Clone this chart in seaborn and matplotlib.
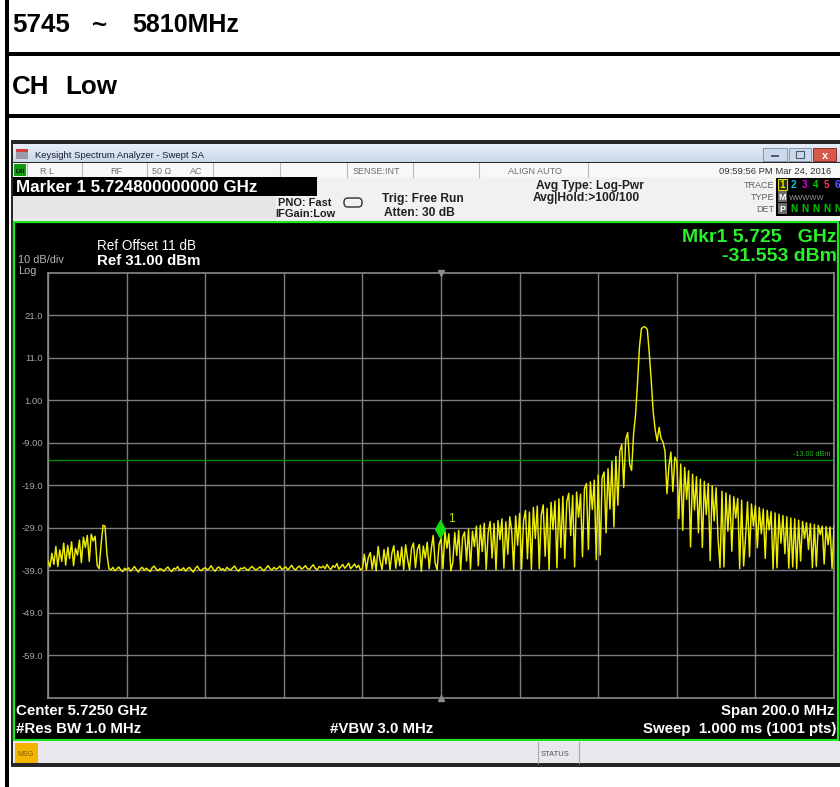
import numpy as np
import seaborn as sns
import matplotlib.pyplot as plt
from matplotlib.patches import Rectangle, FancyBboxPatch
from matplotlib.path import Path

W, H = 840, 787
FONT = "Liberation Sans"

# Analyzer settings
center_ghz = 5.725
span_ghz = 0.200
ref_level = 31.0
db_per_div = 10.0
limit_dbm = -13.0
marker_ghz = 5.7248
marker_dbm = -31.553

ytick_values = [21.0, 11.0, 1.0, -9.0, -19.0, -29.0, -39.0, -49.0, -59.0]
ytick_labels = ["21.0", "11.0", "1.00", "-9.00", "-19.0", "-29.0", "-39.0", "-49.0", "-59.0"]

# Trace levels (dBm) read every 0.5 MHz across the span
level_left = [  # 5625.0 .. 5644.5 MHz
    -36.8, -38.2, -35.0, -37.6, -33.4, -38.1, -34.2, -36.9, -32.6, -37.8,
    -33.1, -36.2, -32.3, -37.9, -33.8, -35.4, -31.9, -37.2, -31.2, -33.6,
    -30.8, -36.9, -30.5, -32.1, -31.0, -37.8, -38.6, -33.0, -28.4, -28.6,
    -35.2, -38.6, -38.9, -38.3, -39.1, -38.7, -38.2, -38.9, -39.3, -38.5,
]
level_floor = [  # 5645.0 .. 5704.5 MHz
    -38.9, -38.4, -39.2, -38.7, -38.1, -38.8, -39.4, -38.6, -38.3, -39.0,
    -38.5, -38.9, -39.3, -38.4, -38.0, -38.7, -39.1, -38.6, -38.8, -39.2,
    -38.6, -38.2, -38.9, -39.3, -38.5, -38.7, -38.1, -39.0, -38.8, -38.4,
    -39.2, -38.6, -38.3, -38.9, -39.4, -38.5, -38.0, -38.8, -39.1, -38.6,
    -38.4, -38.9, -38.6, -37.9, -38.7, -39.2, -38.5, -38.2, -38.9, -38.6,
    -39.1, -38.3, -38.7, -38.9, -38.4, -38.0, -38.8, -39.2, -38.5, -38.6,
    -38.3, -38.8, -39.0, -38.4, -38.1, -38.7, -38.9, -38.5, -38.2, -38.8,
    -39.1, -38.4, -37.9, -38.6, -38.9, -38.3, -38.7, -38.5, -38.0, -38.8,
    -38.5, -38.2, -38.9, -38.4, -37.8, -38.6, -38.9, -38.3, -38.0, -38.7,
    -38.4, -37.9, -38.6, -38.8, -38.2, -37.7, -38.5, -38.9, -38.1, -38.4,
    -38.0, -38.6, -37.6, -38.4, -38.8, -37.9, -38.3, -37.4, -38.7, -38.2,
    -37.6, -38.5, -38.0, -37.3, -38.6, -38.1, -37.5, -38.4, -37.8, -38.9,
]
level_rise = [  # 5705.0 .. 5774.5 MHz
    -38.6, -35.2, -38.9, -36.0, -34.8, -38.7, -35.6, -39.1, -33.4, -36.8,
    -38.8, -34.1, -37.5, -33.6, -38.9, -35.0, -33.2, -38.5, -34.4, -37.9,
    -33.5, -38.8, -33.0, -36.4, -38.9, -33.8, -32.6, -38.4, -34.0, -32.9,
    -39.2, -33.3, -36.1, -32.4, -38.6, -34.2, -30.8, -37.2, -38.9, -33.0,
    -31.55, -38.6, -29.9, -33.8, -30.4, -39.1, -37.2, -30.1, -35.5, -29.6,
    -38.9, -31.2, -30.0, -36.8, -29.4, -38.7, -29.8, -33.4, -28.6, -37.9,
    -28.4, -34.6, -27.9, -38.8, -30.2, -27.5, -36.1, -28.0, -38.9, -27.3,
    -31.8, -26.9, -38.5, -27.6, -35.2, -26.4, -29.8, -38.9, -26.2, -33.1,
    -25.6, -38.7, -27.4, -24.9, -36.3, -25.3, -38.8, -24.2, -31.5, -23.9,
    -38.6, -26.0, -23.6, -35.7, -24.4, -38.9, -23.0, -29.4, -22.7, -38.4,
    -22.2, -33.6, -21.6, -36.2, -22.9, -20.9, -30.8, -21.4, -38.2, -20.6,
    -26.5, -21.1, -35.8, -19.8, -18.6, -34.1, -18.2, -24.7, -17.8, -36.5,
    -16.6, -35.4, -17.2, -15.9, -30.2, -15.1, -24.6, -13.4, -28.8, -12.2,
    -23.7, -11.0, -9.4, -19.5, -8.2, -6.6, -14.0, -15.5, -7.0, -2.5,
]
level_peak = [  # 5775.0 .. 5784.5 MHz
    5.0, 13.5, 17.8, 18.2, 18.2, 17.6, 12.0, 5.5, -1.8, -6.0,
    -8.6, -5.4, -8.0, -8.9, -11.0, -21.0, -14.5, -11.2, -20.5, -12.4,
]
level_tail = [  # 5785.0 .. 5825.0 MHz
    -13.2, -26.8, -14.0, -29.6, -14.8, -22.3, -15.6, -33.5, -16.4, -24.8,
    -17.0, -30.2, -17.6, -33.6, -18.1, -25.9, -18.6, -36.7, -19.1, -27.4,
    -19.6, -31.6, -38.4, -20.4, -38.2, -20.8, -29.8, -21.3, -34.5, -21.7,
    -26.7, -22.1, -38.6, -22.5, -38.0, -31.2, -22.9, -35.8, -23.4, -28.6,
    -23.8, -33.7, -24.2, -30.4, -24.6, -36.2, -24.9, -29.5, -25.2, -38.7,
    -25.5, -38.4, -25.8, -32.6, -26.1, -35.1, -26.4, -38.5, -26.7, -38.2,
    -26.9, -38.6, -27.2, -36.8, -27.5, -31.5, -27.8, -34.1, -28.0, -38.4,
    -28.2, -38.1, -28.4, -30.6, -28.6, -37.5, -28.7, -33.0, -28.8, -38.6,
    -28.6,
]

level_dbm = np.concatenate([level_left, level_floor, level_rise, level_peak, level_tail])
freq_ghz = np.linspace(center_ghz - span_ghz / 2, center_ghz + span_ghz / 2, len(level_dbm))

fig = plt.figure(figsize=(W / 100, H / 100), dpi=100)
fig.patch.set_facecolor("white")

# page / screenshot chrome drawn in pixel coordinates
ui = fig.add_axes([0, 0, 1, 1])
ui.axis("off")


def box(x0, y0, x1, y1, fc, ec="none", lw=0.0, z=1):
    ui.add_patch(Rectangle((x0, y0), x1 - x0, y1 - y0, facecolor=fc,
                           edgecolor=ec, linewidth=lw, zorder=z))


def put(x, y, s, px, color="black", weight="normal", ha="left", va="baseline", z=3):
    ui.text(x, y, s, fontsize=px * 0.72, color=color, fontweight=weight,
            ha=ha, va=va, family=FONT, zorder=z)


# document table
box(4.5, 0, 8.5, H, "black", z=5)
box(8, 52, W, 56, "black", z=5)
box(8, 113.5, W, 117.5, "black", z=5)
put(12, 32.5, "5745", 26, weight="bold")
put(92, 32.5, "~", 26, weight="bold")
put(132, 32.5, "5810MHz", 25, weight="bold")
put(12, 94, "CH", 26, weight="bold")
put(65, 94, "Low", 26, weight="bold")

# screenshot frame
box(11, 140, W, 767, "#262626")
# title bar
grad = np.linspace(0, 1, 20).reshape(-1, 1)
ui.imshow(grad, extent=[13, W, 162, 144], cmap=plt.matplotlib.colors.LinearSegmentedColormap.from_list(
    "tb", ["#e6eef8", "#c9d9ea"]), aspect="auto", zorder=2)
box(16, 149, 28, 159, "#9a9aa8", z=3)
box(16, 149, 28, 152, "#d04040", z=3)
put(35, 158, "Keysight Spectrum Analyzer - Swept SA", 9.5, color="#1c1c30")
box(763, 148, 787, 161, "#cbd9ea", ec="#8696ad", lw=0.7, z=3)
box(771, 155, 779, 157, "#4a5a70", z=4)
box(789, 148, 811, 161, "#cbd9ea", ec="#8696ad", lw=0.7, z=3)
box(796, 151, 804, 158, "none", ec="#4a5a70", lw=0.8, z=4)
box(813, 148, 836, 161, "#d65a4c", ec="#8a3028", lw=0.7, z=3)
put(824.5, 159, "x", 11, color="white", weight="bold", ha="center")

# status row
box(13, 163, W, 177, "#f8f8f8", z=2)
for sx in [27, 82, 147, 213, 280, 347, 413, 479, 588]:
    ui.plot([sx, sx], [163, 177], color="#b8b8b8", lw=0.8, zorder=3)
box(14, 164, 26, 176, "#109a10", z=3)
put(20, 173, "LXI", 6, color="black", weight="bold", ha="center")
row2 = [(40, "R L"), (110, "RF"), (152, "50 \u03a9"), (190, "AC"), (353, "SENSE:INT"), (508, "ALIGN AUTO")]
for tx, s in row2:
    put(tx, 173.5, s, 9, color="#6c6c6c")
put(831, 174, "09:59:56 PM Mar 24, 2016", 9.5, color="#303030", ha="right")

# marker / settings row
box(13, 177, W, 221, "#f1f1f1", z=2)
box(13, 196, 276, 219, "#e6e6e6", z=2)
box(13, 177, 317, 195.5, "black", z=3)
put(16, 192, "Marker 1 5.724800000000 GHz", 17, color="white", weight="bold")
put(305, 206, "PNO: Fast", 11, color="#202020", weight="bold", ha="center")
put(305, 217, "IFGain:Low", 11, color="#202020", weight="bold", ha="center")
ui.add_patch(FancyBboxPatch((344, 198), 18, 9, boxstyle="round,pad=0,rounding_size=4",
                            facecolor="none", edgecolor="#303030", linewidth=1.0, zorder=3))
put(382, 202, "Trig: Free Run", 12, color="#202020", weight="bold")
put(384, 215.5, "Atten: 30 dB", 12, color="#202020", weight="bold")
put(590, 188.5, "Avg Type: Log-Pwr", 12, color="#202020", weight="bold", ha="center")
put(586, 201.5, "Avg|Hold:>100/100", 12, color="#202020", weight="bold", ha="center")

# trace indicator block
box(776, 178, W, 216, "black", z=3)
put(774, 188, "TRACE", 9, color="#606060", ha="right")
put(774, 200, "TYPE", 9, color="#606060", ha="right")
put(774, 212, "DET", 9, color="#606060", ha="right")
box(778, 179, 787, 190, "#2a2a10", ec="#d8d800", lw=0.8, z=4)
trace_colors = ["#e8e800", "#00c8d8", "#e000e0", "#00d000", "#ff3070", "#6060ff"]
for k, c in enumerate(trace_colors):
    put(782.5 + 11 * k, 188, str(k + 1), 10, color=c, weight="bold", ha="center", z=5)
box(778, 191, 787, 202, "#6a6a6a", z=4)
put(782.5, 200, "M", 9, color="white", weight="bold", ha="center", z=5)
put(789, 200, "WWWWW", 7.5, color="#9a9a9a", z=5)
box(778, 203, 787, 214, "#6a6a6a", z=4)
put(782.5, 212, "P", 9, color="white", weight="bold", ha="center", z=5)
for k in range(5):
    put(793.5 + 11 * k, 212, "N", 10, color="#00c800", weight="bold", ha="center", z=5)

# measurement panel
box(14, 222, 837.5, 739.5, "black", ec="#1ee61e", lw=1.6, z=2)
put(97, 250, "Ref Offset 11 dB", 13.5, color="white")
put(97, 265, "Ref 31.00 dBm", 15, color="white", weight="bold")
put(18, 263, "10 dB/div", 11, color="#b4b4b4")
put(18, 273.5, "Log", 11, color="#b4b4b4")
put(837, 242, "Mkr1 5.725   GHz", 19.5, color="#2af02a", weight="bold", ha="right")
put(837, 261, "-31.553 dBm", 19.5, color="#2af02a", weight="bold", ha="right")
put(16.5, 715, "Center 5.7250 GHz", 15, color="white", weight="bold")
put(16.5, 733, "#Res BW 1.0 MHz", 15, color="white", weight="bold")
put(330, 733, "#VBW 3.0 MHz", 15, color="white", weight="bold")
put(834, 715, "Span 200.0 MHz", 15, color="white", weight="bold", ha="right")
put(836, 733, "Sweep  1.000 ms (1001 pts)", 15, color="white", weight="bold", ha="right")

# message / status bar
box(13, 741, W, 763, "#e9e6ee", z=2)
box(15, 742.5, 38, 762.5, "#f5b400", z=3)
put(17, 756, "MSG", 7, color="#7a5a00")
for sx in [538, 579]:
    ui.plot([sx, sx], [742, 763], color="#a8a8a8", lw=0.8, zorder=3)
put(540.5, 756, "STATUS", 7.5, color="#505050")

ui.set_xlim(0, W)
ui.set_ylim(H, 0)

# spectrum graticule
gx0, gy0, gx1, gy1 = 48, 272.5, 834, 698
ax = fig.add_axes([gx0 / W, 1 - gy1 / H, (gx1 - gx0) / W, (gy1 - gy0) / H])
ax.set_facecolor("black")
ax.set_axisbelow(True)

sns.lineplot(x=freq_ghz, y=level_dbm, ax=ax, color="#eeee00", linewidth=1.05,
             estimator=None, sort=False, zorder=3)

ax.axhline(limit_dbm, color="#008c00", linewidth=1.0, zorder=2)
ax.text(center_ghz + span_ghz / 2 - 0.0008, limit_dbm + 0.4, "-13.00 dBm", color="#22b422",
        fontsize=5.2, ha="right", va="bottom", family=FONT, zorder=4)

diamond = Path([(0, 0), (0.28, 0.5), (0, 1), (-0.28, 0.5), (0, 0)],
               [Path.MOVETO, Path.LINETO, Path.LINETO, Path.LINETO, Path.CLOSEPOLY])
ax.plot([marker_ghz], [marker_dbm], marker=diamond, markersize=28.8, color="#10e010",
        markeredgewidth=0, linestyle="none", zorder=5)
ax.annotate("1", (marker_ghz, marker_dbm), xytext=(5.4, 11.9), textcoords="offset points",
            color="#c8e000", fontsize=8.5, family=FONT, va="baseline", zorder=5)

ax.plot([center_ghz], [ref_level], marker="v", markersize=4.5, color="#8a8a8a",
        clip_on=False, zorder=4)
ax.plot([center_ghz], [ref_level - 10 * db_per_div], marker="^", markersize=4.5,
        color="#8a8a8a", clip_on=False, zorder=4)

ax.set_xlim(center_ghz - span_ghz / 2, center_ghz + span_ghz / 2)
ax.set_ylim(ref_level - 10 * db_per_div, ref_level)
ax.set_xticks(center_ghz + span_ghz * (np.arange(11) / 10 - 0.5))
ax.set_xticklabels([])
ax.set_yticks(ytick_values)
ax.set_yticklabels(ytick_labels, family=FONT)
ax.tick_params(axis="both", length=0, colors="#a5a5a5", labelsize=6.8)
ax.tick_params(axis="y", pad=3.6)
ax.grid(True, color="#7d7d7d", linewidth=1.0)
for sp in ax.spines.values():
    sp.set_color("#8a8a8a")
    sp.set_linewidth(1.2)
ax.set_xlabel("")
ax.set_ylabel("")

fig.savefig("out.png", dpi=100)
